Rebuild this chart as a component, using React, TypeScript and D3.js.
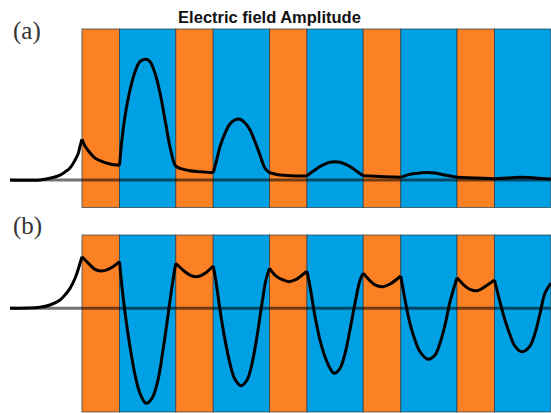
import React from "react";
import * as d3 from "d3";

const WIDTH = 551;
const HEIGHT = 413;

const title = "Electric field Amplitude";
const panelLabels = ["(a)", "(b)"];

// layer edges (position units) and materials
const layerEdges = [0, 2, 5, 7, 10, 12, 15, 17, 20, 22, 25];
const layerMaterial = ["high", "low", "high", "low", "high", "low", "high", "low", "high", "low"];
const xStart = -3.84;

// (a) field amplitude |E|: [position, value]
const amplitudeA: [number, number][] = [
  [-3.84, 0], [-2.24, 0], [-1.71, 0.014], [-1.17, 0.041], [-0.91, 0.066], [-0.64, 0.099],
  [-0.37, 0.165], [-0.21, 0.215], [-0.11, 0.275], [0, 0.337],
  [0.16, 0.281], [0.43, 0.223], [0.69, 0.182], [0.96, 0.16], [1.49, 0.132], [2, 0.121],
  [2.13, 0.331], [2.29, 0.523], [2.56, 0.744], [2.83, 0.895], [3.09, 0.978], [3.41, 0.998],
  [3.63, 0.978], [3.89, 0.884], [4.16, 0.719], [4.43, 0.496], [4.69, 0.275], [4.91, 0.14], [5, 0.112],
  [5.23, 0.096], [5.76, 0.077], [6.29, 0.069], [7, 0.06],
  [7.16, 0.151], [7.36, 0.275], [7.63, 0.388], [7.89, 0.463], [8.16, 0.496], [8.43, 0.502],
  [8.69, 0.473], [8.96, 0.413], [9.23, 0.316], [9.49, 0.207], [9.76, 0.097], [10, 0.06],
  [10.56, 0.041], [11.09, 0.036], [12, 0.033],
  [12.16, 0.054], [12.43, 0.083], [12.69, 0.112], [12.96, 0.132], [13.23, 0.146], [13.49, 0.151],
  [13.76, 0.146], [14.03, 0.132], [14.29, 0.112], [14.56, 0.083], [14.83, 0.054], [15, 0.035],
  [15.36, 0.033], [17, 0.022],
  [17.49, 0.047], [18.03, 0.058], [18.4, 0.063], [18.83, 0.058], [19.36, 0.041], [20, 0.022],
  [20.96, 0.017], [22, 0.01],
  [22.72, 0.017], [23.36, 0.022], [24.16, 0.017], [25, 0.008],
];

// (b) field E: [position, value]
const fieldB: [number, number][] = [
  [-3.84, 0], [-2.24, 0.008], [-1.71, 0.027], [-1.17, 0.069], [-0.91, 0.11], [-0.64, 0.165],
  [-0.37, 0.248], [-0.16, 0.344], [0, 0.426],
  [0.43, 0.358], [0.69, 0.322], [1.01, 0.308], [1.39, 0.322], [1.71, 0.35], [2, 0.385],
  [2.13, 0.179], [2.29, -0.028], [2.56, -0.317], [2.83, -0.551], [3.09, -0.702], [3.41, -0.785],
  [3.73, -0.744], [4.05, -0.593], [4.32, -0.345], [4.59, -0.055], [4.8, 0.179], [5, 0.372],
  [5.49, 0.302], [5.76, 0.275], [6.03, 0.261], [6.29, 0.267], [6.56, 0.289], [7, 0.35],
  [7.16, 0.207], [7.36, -0.014], [7.63, -0.262], [7.89, -0.455], [8.16, -0.587], [8.48, -0.64],
  [8.8, -0.593], [9.07, -0.455], [9.33, -0.235], [9.6, 0.041], [9.81, 0.234], [10, 0.331],
  [10.29, 0.275], [10.72, 0.234], [11.04, 0.22], [11.36, 0.234], [11.63, 0.261], [12, 0.306],
  [12.16, 0.179], [12.43, -0.069], [12.69, -0.262], [12.96, -0.4], [13.23, -0.496], [13.44, -0.537],
  [13.76, -0.496], [14.03, -0.372], [14.29, -0.179], [14.56, 0.041], [14.83, 0.234], [15, 0.289],
  [15.36, 0.228], [15.63, 0.193], [16.05, 0.179], [16.43, 0.201], [17, 0.267],
  [17.23, 0.069], [17.49, -0.124], [17.76, -0.262], [18.03, -0.359], [18.45, -0.421],
  [18.83, -0.386], [19.09, -0.289], [19.36, -0.138], [19.63, 0.055], [20, 0.253],
  [20.43, 0.184], [20.69, 0.157], [21.07, 0.145], [21.49, 0.179], [22, 0.234],
  [22.29, 0.055], [22.56, -0.097], [22.83, -0.221], [23.09, -0.312], [23.47, -0.359],
  [23.89, -0.312], [24.16, -0.207], [24.43, -0.041], [24.69, 0.124], [25, 0.207],
];

const COLORS: Record<string, string> = { high: "#FC8024", low: "#00A1E4" };

const x = d3.scaleLinear().domain([xStart, 25]).range([10, 550.75]);

const panels = [
  { label: panelLabels[0], data: amplitudeA, top: 29, bottom: 207.5, labelY: 39,
    y: d3.scaleLinear().domain([0, 1]).range([180, 59]) },
  { label: panelLabels[1], data: fieldB, top: 235, bottom: 412, labelY: 234,
    y: d3.scaleLinear().domain([0, 1]).range([308.3, 187.3]) },
];

function segments(data: [number, number][]) {
  const bounds = [xStart, ...layerEdges];
  const out: [number, number][][] = [];
  for (let i = 0; i < bounds.length - 1; i++) {
    const lo = bounds[i] - 1e-9, hi = bounds[i + 1] + 1e-9;
    out.push(data.filter((d) => d[0] >= lo && d[0] <= hi));
  }
  return out;
}

export default function App() {
  return (
    <svg width={WIDTH} height={HEIGHT} style={{ position: "absolute", left: 0, top: 0, background: "#fff" }}>
      <text x={269.5} y={23} textAnchor="middle" fontFamily="'Liberation Sans', Arial, sans-serif"
        fontWeight="bold" fontSize={16.5} fill="#111">{title}</text>
      {panels.map((p, pi) => {
        const line = d3.line<[number, number]>()
          .x((d) => x(d[0]))
          .y((d) => p.y(d[1]))
          .curve(d3.curveCatmullRom.alpha(0.5));
        return (
          <g key={pi}>
            {layerMaterial.map((m, i) => (
              <rect key={i} x={x(layerEdges[i])} y={p.top} width={x(layerEdges[i + 1]) - x(layerEdges[i])}
                height={p.bottom - p.top} fill={COLORS[m]} stroke="#2a3a44" strokeOpacity={0.7} strokeWidth={1} />
            ))}
            <line x1={x(xStart)} x2={x(25)} y1={p.y(0)} y2={p.y(0)} stroke="#000" strokeOpacity={0.55} strokeWidth={3} />
            {segments(p.data).map((seg, si) => (
              <path key={si} d={line(seg) || ""} fill="none" stroke="#000" strokeWidth={3} strokeLinejoin="round" />
            ))}
            <text x={13} y={p.labelY} fontFamily="'Liberation Serif', 'Times New Roman', serif" fontSize={25} fill="#333">{p.label}</text>
          </g>
        );
      })}
    </svg>
  );
}
